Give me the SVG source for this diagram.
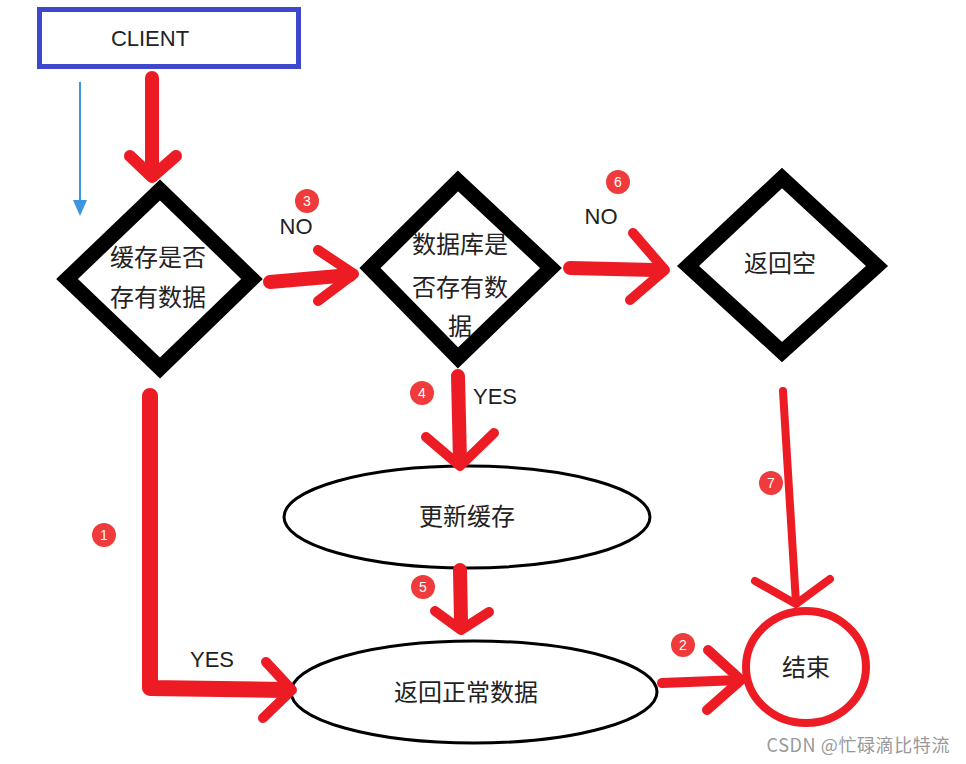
<svg xmlns="http://www.w3.org/2000/svg" width="966" height="764" viewBox="0 0 966 764">
<style>
.lbl{font-family:"Liberation Sans","Noto Sans CJK SC",sans-serif;font-size:22px;fill:#222;text-anchor:middle}
.cjk{font-family:"Noto Sans CJK SC","Noto Sans",sans-serif;font-size:24px;fill:#222;text-anchor:middle}
.dia{fill:#fff;stroke:#000;stroke-width:15;stroke-linejoin:miter}
.ell{fill:#fff;stroke:#000;stroke-width:3}
.red{fill:none;stroke:#ed1c24;stroke-linecap:round;stroke-linejoin:round}
.badge circle{fill:#ef3b3b}
.badge text{font-family:"Liberation Sans",sans-serif;font-size:14px;fill:#fff;text-anchor:middle}
</style>
<rect width="966" height="764" fill="#fff"/>
<g id="client">
<rect x="39.5" y="9.5" width="259" height="57" fill="#fff" stroke="#3f48cc" stroke-width="5"/>
<text class="lbl" x="150" y="46">CLIENT</text>
</g>
<g id="d1">
<polygon class="dia" points="160,190 252,279 160,368 67,279"/>
<text class="cjk" x="158" y="266">缓存是否</text>
<text class="cjk" x="158" y="306">存有数据</text>
</g>
<g id="d2">
<polygon class="dia" points="458,181 551,268 458,358 370,268"/>
<text class="cjk" x="460" y="253">数据库是</text>
<text class="cjk" x="460" y="296">否存有数</text>
<text class="cjk" x="460" y="335">据</text>
</g>
<g id="d3">
<polygon class="dia" points="782,178 877,266 782,352 688,266"/>
<text class="cjk" x="780" y="272">返回空</text>
</g>
<g id="e1">
<ellipse class="ell" cx="467" cy="517" rx="183" ry="51"/>
<text class="cjk" x="467" y="525">更新缓存</text>
</g>
<g id="e2">
<ellipse class="ell" cx="474" cy="692" rx="183" ry="51"/>
<text class="cjk" x="466" y="701">返回正常数据</text>
</g>
<g id="end">
<ellipse cx="806" cy="667" rx="60" ry="56" fill="#fff" stroke="#ed1c24" stroke-width="8"/>
<text class="cjk" x="806" y="676">结束</text>
</g>
<g id="connectors">
<line x1="80" y1="82" x2="80" y2="202" stroke="#3b95e0" stroke-width="2"/>
<polygon points="73,200 87,200 80,216" fill="#3b95e0"/>
<path class="red" stroke-width="14" d="M152,78 L152,170"/>
<path class="red" stroke-width="12" d="M130,156 L152,177 L176,156"/>
<path class="red" stroke-width="16" d="M150,396 L150,688 L285,690"/>
<path class="red" stroke-width="10" d="M266,662 L292,690 L263,718"/>
<path class="red" stroke-width="14" d="M270,282 L350,275"/>
<path class="red" stroke-width="10" d="M318,250 L354,274 L318,301"/>
<path class="red" stroke-width="14" d="M570,268 L655,270"/>
<path class="red" stroke-width="10" d="M633,233 L665,270 L630,300"/>
<path class="red" stroke-width="14" d="M458,376 L460,462"/>
<path class="red" stroke-width="10" d="M426,437 L460,466 L494,433"/>
<path class="red" stroke-width="14" d="M460,570 L461,622"/>
<path class="red" stroke-width="10" d="M435,611 L461,630 L489,612"/>
<path class="red" stroke-width="10" d="M662,683 L740,680"/>
<path class="red" stroke-width="10" d="M708,650 L741,680 L707,710"/>
<path class="red" stroke-width="8" d="M783,391 L796,603"/>
<path class="red" stroke-width="8" d="M755,581 L796,604 L830,579"/>
</g>
<g id="labels">
<text class="lbl" x="296" y="234">NO</text>
<text class="lbl" x="601" y="224">NO</text>
<text class="lbl" x="495" y="404">YES</text>
<text class="lbl" x="212" y="667">YES</text>
</g>
<g class="badge" id="badges">
<g><circle cx="104" cy="535" r="12"/><text x="104" y="540">1</text></g>
<g><circle cx="683" cy="645" r="12"/><text x="683" y="650">2</text></g>
<g><circle cx="307" cy="201" r="12"/><text x="307" y="206">3</text></g>
<g><circle cx="422" cy="393" r="12"/><text x="422" y="398">4</text></g>
<g><circle cx="423" cy="587" r="12"/><text x="423" y="592">5</text></g>
<g><circle cx="618" cy="182" r="12"/><text x="618" y="187">6</text></g>
<g><circle cx="771" cy="483" r="12"/><text x="771" y="488">7</text></g>
</g>
<text x="950" y="752" font-family="Noto Sans CJK SC,Noto Sans,sans-serif" font-size="18" letter-spacing="0.6" fill="#999" text-anchor="end">CSDN @忙碌滴比特流</text>
</svg>
